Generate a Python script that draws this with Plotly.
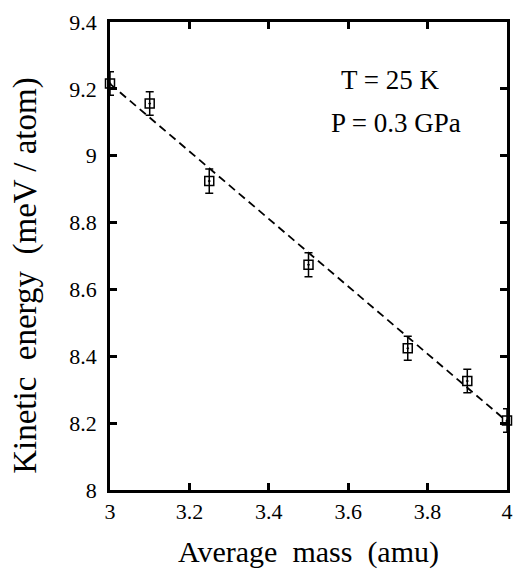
import plotly.graph_objects as go

mass = [3.0, 3.1, 3.25, 3.5, 3.75, 3.9, 4.0]
energy = [9.216, 9.156, 8.924, 8.674, 8.424, 8.326, 8.208]
err = [0.035, 0.035, 0.036, 0.036, 0.036, 0.035, 0.035]
fit_x = [3.0, 4.0]
fit_y = [9.215, 8.205]
x_ticks = [3, 3.2, 3.4, 3.6, 3.8, 4]
x_tick_text = ["3", "3.2", "3.4", "3.6", "3.8", "4"]
y_ticks = [8, 8.2, 8.4, 8.6, 8.8, 9, 9.2, 9.4]
y_tick_text = ["8", "8.2", "8.4", "8.6", "8.8", "9", "9.2", "9.4"]

FONT = "Liberation Serif"

fig = go.Figure()
fig.add_trace(go.Scatter(
    x=fit_x, y=fit_y, mode="lines",
    line=dict(color="black", width=1.8, dash="8px,5px"),
    showlegend=False, cliponaxis=False))
fig.add_trace(go.Scatter(
    x=mass, y=energy, mode="markers",
    marker=dict(symbol="square-open-dot", size=9, color="black",
                line=dict(color="black", width=1.5)),
    error_y=dict(type="data", array=err, visible=True, color="black",
                 thickness=1.5, width=4),
    showlegend=False, cliponaxis=False))

axis_common = dict(
    showline=True, linecolor="black", linewidth=2.5, mirror="ticks",
    ticks="inside", ticklen=7, tickwidth=2.5, tickcolor="black",
    showgrid=False, zeroline=False,
    tickfont=dict(family=FONT, size=22, color="black"),
)

fig.update_layout(
    width=523, height=571,
    margin=dict(l=110, r=10, t=19, b=81),
    paper_bgcolor="white", plot_bgcolor="white",
    font=dict(family=FONT, color="black"),
    xaxis=dict(range=[3, 4], tickvals=x_ticks, ticktext=x_tick_text,
               ticklabelstandoff=0, **axis_common),
    yaxis=dict(range=[8, 9.4], tickvals=y_ticks, ticktext=y_tick_text,
               ticklabelstandoff=6, **axis_common),
    annotations=[
        dict(x=3.705, y=9.228, xref="x", yref="y", text="T = 25 K", showarrow=False,
             font=dict(family=FONT, size=27, color="black")),
        dict(x=3.72, y=9.097, xref="x", yref="y", text="P = 0.3 GPa", showarrow=False,
             font=dict(family=FONT, size=27, color="black")),
        dict(x=0.501, y=-0.1316, xref="paper", yref="paper", text="Average  mass  (amu)",
             showarrow=False, xanchor="center", yanchor="middle",
             font=dict(family=FONT, size=30, color="black")),
        dict(x=-0.213, y=0.4586, xref="paper", yref="paper",
             text="Kinetic  energy  (meV / atom)", textangle=-90,
             showarrow=False, xanchor="center", yanchor="middle",
             font=dict(family=FONT, size=33, color="black")),
    ],
)

fig.write_html("out.html")
